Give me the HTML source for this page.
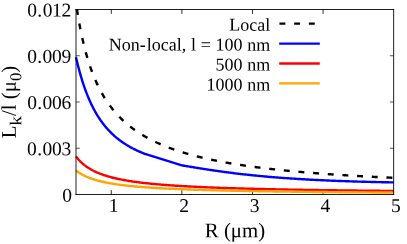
<!DOCTYPE html>
<html><head><meta charset="utf-8"><title>plot</title>
<style>
html,body{margin:0;padding:0;background:#fff;}
svg{display:block;will-change:transform;}
text{font-family:"Liberation Serif",serif;fill:#000;text-rendering:geometricPrecision;}
</style></head><body>
<svg width="407" height="244" viewBox="0 0 407 244">
<rect width="407" height="244" fill="#fff"/>
<g stroke="#000" stroke-width="0.66" fill="none"><line stroke-width="0.82" x1="111.29" y1="194.5" x2="111.29" y2="190.1"/><line stroke-width="0.82" x1="111.29" y1="9.5" x2="111.29" y2="13.9"/><line stroke-width="0.82" x1="181.88" y1="194.5" x2="181.88" y2="190.1"/><line stroke-width="0.82" x1="181.88" y1="9.5" x2="181.88" y2="13.9"/><line stroke-width="0.82" x1="252.47" y1="194.5" x2="252.47" y2="190.1"/><line stroke-width="0.82" x1="252.47" y1="9.5" x2="252.47" y2="13.9"/><line stroke-width="0.82" x1="323.06" y1="194.5" x2="323.06" y2="190.1"/><line stroke-width="0.82" x1="323.06" y1="9.5" x2="323.06" y2="13.9"/><line x1="76.0" y1="148.25" x2="79.8" y2="148.25"/><line x1="393.65" y1="148.25" x2="389.85" y2="148.25"/><line x1="76.0" y1="102.00" x2="79.8" y2="102.00"/><line x1="393.65" y1="102.00" x2="389.85" y2="102.00"/><line x1="76.0" y1="55.75" x2="79.8" y2="55.75"/><line x1="393.65" y1="55.75" x2="389.85" y2="55.75"/></g>
<g fill="none" stroke-linejoin="round" stroke-linecap="butt" stroke-width="2.4">
<path d="M76.95,9.50 L77.06,10.21 L77.59,13.53 L78.12,16.72 L78.65,19.80 L79.18,22.76 L79.71,25.62 L80.24,28.37 L80.77,31.04 L81.30,33.61 L81.83,36.09 L82.36,38.50 L82.89,40.82 L83.42,43.08 L83.95,45.26 L84.48,47.38 L85.02,49.43 L85.55,51.43 L86.08,53.36 L86.61,55.24 L87.14,57.07 L87.67,58.84 L88.20,60.57 L88.73,62.25 L89.26,63.89 L89.79,65.48 L90.32,67.04 L90.85,68.55 L91.38,70.03 L91.91,71.46 L92.44,72.87 L92.97,74.24 L93.50,75.58 L94.03,76.88 L94.56,78.16 L95.09,79.41 L95.62,80.63 L96.15,81.82 L96.68,82.99 L97.21,84.13 L97.74,85.24 L98.27,86.34 L98.80,87.41 L99.33,88.46 L99.86,89.48 L100.39,90.49 L100.92,91.48 L101.45,92.44 L101.98,93.39 L102.52,94.32 L103.05,95.23 L103.58,96.13 L104.11,97.01 L104.64,97.87 L105.17,98.71 L105.70,99.55 L106.23,100.36 L106.76,101.16 L107.29,101.95 L107.82,102.73 L108.35,103.49 L108.88,104.24 L109.41,104.97 L109.94,105.69 L110.47,106.40 L111.00,107.10 L111.53,107.79 L112.06,108.47 L112.59,109.14 L113.12,109.79 L113.65,110.44 L114.18,111.07 L114.71,111.70 L115.24,112.32 L115.77,112.92 L116.30,113.52 L116.83,114.11 L117.36,114.69 L117.89,115.26 L118.42,115.83 L118.95,116.38 L119.48,116.93 L120.01,117.47 L120.55,118.00 L121.08,118.53 L121.61,119.05 L122.14,119.56 L122.67,120.06 L123.20,120.56 L123.73,121.05 L124.26,121.53 L124.79,122.01 L125.32,122.48 L125.85,122.95 L126.38,123.41 L126.91,123.86 L127.44,124.31 L127.97,124.75 L128.50,125.19 L129.03,125.62 L129.56,126.04 L130.09,126.46 L130.62,126.88 L131.15,127.29 L131.68,127.69 L132.21,128.10 L132.74,128.49 L133.27,128.88 L133.80,129.27 L134.33,129.65 L134.86,130.03 L135.39,130.40 L135.92,130.77 L136.45,131.14 L136.98,131.50 L137.51,131.85 L138.05,132.21 L138.58,132.56 L139.11,132.90 L139.64,133.24 L140.17,133.58 L140.70,133.91 L141.23,134.24 L141.76,134.57 L142.29,134.89 L142.82,135.21 L143.35,135.53 L143.88,135.84 L144.41,136.15 L144.94,136.46 L145.47,136.76 L146.00,137.06 L146.53,137.36 L147.06,137.66 L147.59,137.95 L148.12,138.24 L148.65,138.52 L149.18,138.80 L149.71,139.08 L150.24,139.36 L150.77,139.64 L151.30,139.91 L151.83,140.18 L152.36,140.44 L152.89,140.71 L153.42,140.97 L153.95,141.23 L154.48,141.49 L155.01,141.74 L155.55,141.99 L156.08,142.24 L156.61,142.49 L157.14,142.73 L157.67,142.98 L158.20,143.22 L158.73,143.46 L159.26,143.69 L159.79,143.93 L160.32,144.16 L160.85,144.39 L161.38,144.62 L161.91,144.84 L162.44,145.07 L162.97,145.29 L163.50,145.51 L164.03,145.73 L164.56,145.94 L165.09,146.16 L165.62,146.37 L166.15,146.58 L166.68,146.79 L167.21,147.00 L167.74,147.20 L168.27,147.40 L168.80,147.61 L169.33,147.81 L169.86,148.01 L170.39,148.20 L170.92,148.40 L171.45,148.59 L171.98,148.78 L172.51,148.97 L173.04,149.16 L173.58,149.35 L174.11,149.54 L174.64,149.72 L175.17,149.91 L175.70,150.09 L176.23,150.27 L176.76,150.45 L177.29,150.62 L177.82,150.80 L178.35,150.97 L178.88,151.15 L179.41,151.32 L179.94,151.49 L180.47,151.66 L181.00,151.83 L181.53,151.99 L182.06,152.16 L182.59,152.32 L183.12,152.49 L183.65,152.65 L184.18,152.81 L184.71,152.97 L185.24,153.13 L185.77,153.28 L186.30,153.44 L186.83,153.60 L187.36,153.75 L187.89,153.90 L188.42,154.05 L188.95,154.20 L189.48,154.35 L190.01,154.50 L190.54,154.65 L191.08,154.79 L191.61,154.94 L192.14,155.08 L192.67,155.23 L193.20,155.37 L193.73,155.51 L194.26,155.65 L194.79,155.79 L195.32,155.93 L195.85,156.06 L196.38,156.20 L196.91,156.33 L197.44,156.47 L197.97,156.60 L198.50,156.73 L199.03,156.87 L199.56,157.00 L200.09,157.13 L200.62,157.26 L201.15,157.38 L201.68,157.51 L202.21,157.64 L202.74,157.76 L203.27,157.89 L203.80,158.01 L204.33,158.13 L204.86,158.26 L205.39,158.38 L205.92,158.50 L206.45,158.62 L206.98,158.74 L207.51,158.85 L208.04,158.97 L208.58,159.09 L209.11,159.21 L209.64,159.32 L210.17,159.43 L210.70,159.55 L211.23,159.66 L211.76,159.77 L212.29,159.89 L212.82,160.00 L213.35,160.11 L213.88,160.22 L214.41,160.33 L214.94,160.43 L215.47,160.54 L216.00,160.65 L216.53,160.75 L217.06,160.86 L217.59,160.96 L218.12,161.07 L218.65,161.17 L219.18,161.28 L219.71,161.38 L220.24,161.48 L220.77,161.58 L221.30,161.68 L221.83,161.78 L222.36,161.88 L222.89,161.98 L223.42,162.08 L223.95,162.17 L224.48,162.27 L225.01,162.37 L225.54,162.46 L226.08,162.56 L226.61,162.65 L227.14,162.75 L227.67,162.84 L228.20,162.93 L228.73,163.03 L229.26,163.12 L229.79,163.21 L230.32,163.30 L230.85,163.39 L231.38,163.48 L231.91,163.57 L232.44,163.66 L232.97,163.75 L233.50,163.84 L234.03,163.92 L234.56,164.01 L235.09,164.10 L235.62,164.18 L236.15,164.27 L236.68,164.35 L237.21,164.44 L237.74,164.52 L238.27,164.60 L238.80,164.69 L239.33,164.77 L239.86,164.85 L240.39,164.93 L240.92,165.01 L241.45,165.10 L241.98,165.18 L242.51,165.26 L243.04,165.33 L243.57,165.41 L244.11,165.49 L244.64,165.57 L245.17,165.65 L245.70,165.73 L246.23,165.80 L246.76,165.88 L247.29,165.96 L247.82,166.03 L248.35,166.11 L248.88,166.18 L249.41,166.26 L249.94,166.33 L250.47,166.40 L251.00,166.48 L251.53,166.55 L252.06,166.62 L252.59,166.69 L253.12,166.77 L253.65,166.84 L254.18,166.91 L254.71,166.98 L255.24,167.05 L255.77,167.12 L256.30,167.19 L256.83,167.26 L257.36,167.33 L257.89,167.40 L258.42,167.46 L258.95,167.53 L259.48,167.60 L260.01,167.67 L260.54,167.73 L261.07,167.80 L261.61,167.87 L262.14,167.93 L262.67,168.00 L263.20,168.06 L263.73,168.13 L264.26,168.19 L264.79,168.25 L265.32,168.32 L265.85,168.38 L266.38,168.45 L266.91,168.51 L267.44,168.57 L267.97,168.63 L268.50,168.70 L269.03,168.76 L269.56,168.82 L270.09,168.88 L270.62,168.94 L271.15,169.00 L271.68,169.06 L272.21,169.12 L272.74,169.18 L273.27,169.24 L273.80,169.30 L274.33,169.36 L274.86,169.42 L275.39,169.47 L275.92,169.53 L276.45,169.59 L276.98,169.65 L277.51,169.70 L278.04,169.76 L278.57,169.82 L279.11,169.87 L279.64,169.93 L280.17,169.98 L280.70,170.04 L281.23,170.10 L281.76,170.15 L282.29,170.21 L282.82,170.26 L283.35,170.31 L283.88,170.37 L284.41,170.42 L284.94,170.47 L285.47,170.53 L286.00,170.58 L286.53,170.63 L287.06,170.69 L287.59,170.74 L288.12,170.79 L288.65,170.84 L289.18,170.89 L289.71,170.94 L290.24,171.00 L290.77,171.05 L291.30,171.10 L291.83,171.15 L292.36,171.20 L292.89,171.25 L293.42,171.30 L293.95,171.35 L294.48,171.40 L295.01,171.44 L295.54,171.49 L296.07,171.54 L296.61,171.59 L297.14,171.64 L297.67,171.69 L298.20,171.73 L298.73,171.78 L299.26,171.83 L299.79,171.88 L300.32,171.92 L300.85,171.97 L301.38,172.02 L301.91,172.06 L302.44,172.11 L302.97,172.15 L303.50,172.20 L304.03,172.25 L304.56,172.29 L305.09,172.34 L305.62,172.38 L306.15,172.43 L306.68,172.47 L307.21,172.51 L307.74,172.56 L308.27,172.60 L308.80,172.65 L309.33,172.69 L309.86,172.73 L310.39,172.78 L310.92,172.82 L311.45,172.86 L311.98,172.90 L312.51,172.95 L313.04,172.99 L313.57,173.03 L314.10,173.07 L314.64,173.11 L315.17,173.16 L315.70,173.20 L316.23,173.24 L316.76,173.28 L317.29,173.32 L317.82,173.36 L318.35,173.40 L318.88,173.44 L319.41,173.48 L319.94,173.52 L320.47,173.56 L321.00,173.60 L321.53,173.64 L322.06,173.68 L322.59,173.72 L323.12,173.76 L323.65,173.80 L324.18,173.84 L324.71,173.88 L325.24,173.91 L325.77,173.95 L326.30,173.99 L326.83,174.03 L327.36,174.07 L327.89,174.10 L328.42,174.14 L328.95,174.18 L329.48,174.22 L330.01,174.25 L330.54,174.29 L331.07,174.33 L331.60,174.36 L332.14,174.40 L332.67,174.44 L333.20,174.47 L333.73,174.51 L334.26,174.54 L334.79,174.58 L335.32,174.61 L335.85,174.65 L336.38,174.69 L336.91,174.72 L337.44,174.76 L337.97,174.79 L338.50,174.82 L339.03,174.86 L339.56,174.89 L340.09,174.93 L340.62,174.96 L341.15,175.00 L341.68,175.03 L342.21,175.06 L342.74,175.10 L343.27,175.13 L343.80,175.17 L344.33,175.20 L344.86,175.23 L345.39,175.26 L345.92,175.30 L346.45,175.33 L346.98,175.36 L347.51,175.40 L348.04,175.43 L348.57,175.46 L349.10,175.49 L349.64,175.52 L350.17,175.56 L350.70,175.59 L351.23,175.62 L351.76,175.65 L352.29,175.68 L352.82,175.71 L353.35,175.75 L353.88,175.78 L354.41,175.81 L354.94,175.84 L355.47,175.87 L356.00,175.90 L356.53,175.93 L357.06,175.96 L357.59,175.99 L358.12,176.02 L358.65,176.05 L359.18,176.08 L359.71,176.11 L360.24,176.14 L360.77,176.17 L361.30,176.20 L361.83,176.23 L362.36,176.26 L362.89,176.29 L363.42,176.32 L363.95,176.34 L364.48,176.37 L365.01,176.40 L365.54,176.43 L366.07,176.46 L366.60,176.49 L367.13,176.52 L367.67,176.54 L368.20,176.57 L368.73,176.60 L369.26,176.63 L369.79,176.66 L370.32,176.68 L370.85,176.71 L371.38,176.74 L371.91,176.77 L372.44,176.79 L372.97,176.82 L373.50,176.85 L374.03,176.88 L374.56,176.90 L375.09,176.93 L375.62,176.96 L376.15,176.98 L376.68,177.01 L377.21,177.04 L377.74,177.06 L378.27,177.09 L378.80,177.11 L379.33,177.14 L379.86,177.17 L380.39,177.19 L380.92,177.22 L381.45,177.24 L381.98,177.27 L382.51,177.29 L383.04,177.32 L383.57,177.35 L384.10,177.37 L384.63,177.40 L385.17,177.42 L385.70,177.45 L386.23,177.47 L386.76,177.50 L387.29,177.52 L387.82,177.54 L388.35,177.57 L388.88,177.59 L389.41,177.62 L389.94,177.64 L390.47,177.67 L391.00,177.69 L391.53,177.71 L392.06,177.74 L392.59,177.76 L393.12,177.79 L393.65,177.81" stroke="#000" stroke-dasharray="5.9 8.8" stroke-dashoffset="0.46"/>
<path d="M76.00,57.16 L76.59,59.74 L77.19,62.24 L77.78,64.66 L78.37,67.00 L78.97,69.28 L79.56,71.48 L80.15,73.62 L80.75,75.69 L81.34,77.70 L81.93,79.65 L82.53,81.54 L83.12,83.38 L83.71,85.17 L84.30,86.90 L84.90,88.59 L85.49,90.23 L86.08,91.82 L86.68,93.37 L87.27,94.88 L87.86,96.35 L88.46,97.78 L89.05,99.17 L89.64,100.52 L90.24,101.84 L90.83,103.13 L91.42,104.38 L92.02,105.60 L92.61,106.79 L93.20,107.95 L93.80,109.08 L94.39,110.19 L94.98,111.26 L95.58,112.31 L96.17,113.34 L96.76,114.34 L97.35,115.32 L97.95,116.28 L98.54,117.21 L99.13,118.12 L99.73,119.01 L100.32,119.88 L100.91,120.73 L101.51,121.57 L102.10,122.38 L102.69,123.18 L103.29,123.96 L103.88,124.72 L104.47,125.47 L105.07,126.20 L105.66,126.91 L106.25,127.61 L106.85,128.30 L107.44,128.97 L108.03,129.62 L108.63,130.27 L109.22,130.90 L109.81,131.52 L110.40,132.12 L111.00,132.72 L111.59,133.30 L112.18,133.87 L112.78,134.43 L113.37,134.98 L113.96,135.52 L114.56,136.05 L115.15,136.57 L115.74,137.08 L116.34,137.58 L116.93,138.07 L117.52,138.55 L118.12,139.02 L118.71,139.49 L119.30,139.94 L119.90,140.39 L120.49,140.83 L121.08,141.26 L121.68,141.69 L122.27,142.10 L122.86,142.51 L123.45,142.91 L124.05,143.31 L124.64,143.70 L125.23,144.08 L125.83,144.46 L126.42,144.83 L127.01,145.19 L127.61,145.55 L128.20,145.90 L128.79,146.24 L129.39,146.58 L129.98,146.92 L130.57,147.25 L131.17,147.57 L131.76,147.89 L132.35,148.21 L132.95,148.51 L133.54,148.82 L134.13,149.12 L134.73,149.41 L135.32,149.70 L135.91,149.99 L136.50,150.27 L137.10,150.55 L137.69,150.82 L138.28,151.09 L138.88,151.35 L139.47,151.61 L140.06,151.87 L140.66,152.12 L141.25,152.37 L141.84,152.62 L142.44,152.86 L143.03,153.10 L143.62,153.34 L144.22,153.57 L144.81,153.80 L145.40,154.02 L146.00,154.24 L146.59,154.46 L181.88,165.36 L182.95,165.53 L184.01,165.71 L185.08,165.89 L186.14,166.07 L187.20,166.24 L188.27,166.42 L189.33,166.60 L190.40,166.77 L191.46,166.95 L192.52,167.12 L193.59,167.30 L194.65,167.47 L195.72,167.65 L196.78,167.82 L197.85,167.99 L198.91,168.17 L199.97,168.34 L201.04,168.51 L202.10,168.68 L203.17,168.84 L204.23,169.01 L205.29,169.18 L206.36,169.34 L207.42,169.51 L208.49,169.67 L209.55,169.83 L210.62,169.99 L211.68,170.15 L212.74,170.31 L213.81,170.46 L214.87,170.62 L215.94,170.77 L217.00,170.93 L218.06,171.08 L219.13,171.23 L220.19,171.38 L221.26,171.53 L222.32,171.67 L223.39,171.82 L224.45,171.96 L225.51,172.10 L226.58,172.25 L227.64,172.39 L228.71,172.52 L229.77,172.66 L230.83,172.80 L231.90,172.93 L232.96,173.06 L234.03,173.20 L235.09,173.33 L236.16,173.46 L237.22,173.58 L238.28,173.71 L239.35,173.84 L240.41,173.96 L241.48,174.08 L242.54,174.20 L243.60,174.32 L244.67,174.44 L245.73,174.56 L246.80,174.68 L247.86,174.79 L248.93,174.90 L249.99,175.02 L251.05,175.13 L252.12,175.24 L253.18,175.35 L254.25,175.45 L255.31,175.56 L256.37,175.67 L257.44,175.77 L258.50,175.87 L259.57,175.97 L260.63,176.07 L261.69,176.17 L262.76,176.27 L263.82,176.37 L264.89,176.46 L265.95,176.56 L267.02,176.65 L268.08,176.75 L269.14,176.84 L270.21,176.93 L271.27,177.02 L272.34,177.11 L273.40,177.19 L274.46,177.28 L275.53,177.37 L276.59,177.45 L277.66,177.53 L278.72,177.62 L279.79,177.70 L280.85,177.78 L281.91,177.86 L282.98,177.94 L284.04,178.01 L285.11,178.09 L286.17,178.17 L287.23,178.24 L288.30,178.31 L289.36,178.39 L290.43,178.46 L291.49,178.53 L292.56,178.60 L293.62,178.67 L294.68,178.74 L295.75,178.81 L296.81,178.88 L297.88,178.94 L298.94,179.01 L300.00,179.07 L301.07,179.14 L302.13,179.20 L303.20,179.26 L304.26,179.32 L305.33,179.38 L306.39,179.44 L307.45,179.50 L308.52,179.56 L309.58,179.62 L310.65,179.68 L311.71,179.73 L312.77,179.79 L313.84,179.84 L314.90,179.90 L315.97,179.95 L317.03,180.01 L318.10,180.06 L319.16,180.11 L320.22,180.16 L321.29,180.21 L322.35,180.26 L323.42,180.31 L324.48,180.36 L325.54,180.41 L326.61,180.45 L327.67,180.50 L328.74,180.55 L329.80,180.59 L330.86,180.64 L331.93,180.68 L332.99,180.72 L334.06,180.77 L335.12,180.81 L336.19,180.85 L337.25,180.89 L338.31,180.93 L339.38,180.97 L340.44,181.01 L341.51,181.05 L342.57,181.09 L343.63,181.13 L344.70,181.17 L345.76,181.20 L346.83,181.24 L347.89,181.28 L348.96,181.31 L350.02,181.35 L351.08,181.38 L352.15,181.42 L353.21,181.45 L354.28,181.48 L355.34,181.51 L356.40,181.55 L357.47,181.58 L358.53,181.61 L359.60,181.64 L360.66,181.67 L361.73,181.70 L362.79,181.73 L363.85,181.76 L364.92,181.79 L365.98,181.82 L367.05,181.84 L368.11,181.87 L369.17,181.90 L370.24,181.92 L371.30,181.95 L372.37,181.98 L373.43,182.00 L374.50,182.03 L375.56,182.05 L376.62,182.08 L377.69,182.10 L378.75,182.12 L379.82,182.15 L380.88,182.17 L381.94,182.19 L383.01,182.21 L384.07,182.23 L385.14,182.25 L386.20,182.27 L387.27,182.30 L388.33,182.32 L389.39,182.33 L390.46,182.35 L391.52,182.37 L392.59,182.39 L393.65,182.41" stroke="#0000ff"/>
<path d="M76.00,156.48 L77.06,157.82 L78.12,159.08 L79.19,160.25 L80.25,161.34 L81.31,162.37 L82.37,163.34 L83.44,164.24 L84.50,165.10 L85.56,165.91 L86.62,166.68 L87.69,167.41 L88.75,168.09 L89.81,168.75 L90.87,169.37 L91.94,169.96 L93.00,170.53 L94.06,171.07 L95.12,171.58 L96.19,172.08 L97.25,172.55 L98.31,173.00 L99.37,173.43 L100.43,173.85 L101.50,174.24 L102.56,174.63 L103.62,175.00 L104.68,175.35 L105.75,175.69 L106.81,176.02 L107.87,176.34 L108.93,176.65 L110.00,176.94 L111.06,177.23 L112.12,177.51 L113.18,177.77 L114.25,178.03 L115.31,178.28 L116.37,178.53 L117.43,178.76 L118.49,178.99 L119.56,179.21 L120.62,179.43 L121.68,179.64 L122.74,179.84 L123.81,180.04 L124.87,180.23 L125.93,180.42 L126.99,180.60 L128.06,180.78 L129.12,180.95 L130.18,181.11 L131.24,181.28 L132.31,181.44 L133.37,181.59 L134.43,181.74 L135.49,181.89 L136.56,182.04 L137.62,182.18 L138.68,182.31 L139.74,182.45 L140.80,182.58 L141.87,182.71 L142.93,182.83 L143.99,182.96 L145.05,183.08 L146.12,183.19 L147.18,183.31 L148.24,183.42 L149.30,183.53 L150.37,183.64 L151.43,183.74 L152.49,183.85 L153.55,183.95 L154.62,184.05 L155.68,184.15 L156.74,184.24 L157.80,184.33 L158.87,184.43 L159.93,184.52 L160.99,184.60 L162.05,184.69 L163.11,184.78 L164.18,184.86 L165.24,184.94 L166.30,185.02 L167.36,185.10 L168.43,185.18 L169.49,185.26 L170.55,185.33 L171.61,185.41 L172.68,185.48 L173.74,185.55 L174.80,185.62 L175.86,185.69 L176.93,185.76 L177.99,185.82 L179.05,185.89 L180.11,185.95 L181.18,186.02 L182.24,186.08 L183.30,186.14 L184.36,186.20 L185.42,186.26 L186.49,186.32 L187.55,186.38 L188.61,186.44 L189.67,186.49 L190.74,186.55 L191.80,186.60 L192.86,186.66 L193.92,186.71 L194.99,186.76 L196.05,186.81 L197.11,186.86 L198.17,186.91 L199.24,186.96 L200.30,187.01 L201.36,187.06 L202.42,187.11 L203.48,187.15 L204.55,187.20 L205.61,187.25 L206.67,187.29 L207.73,187.34 L208.80,187.38 L209.86,187.42 L210.92,187.47 L211.98,187.51 L213.05,187.55 L214.11,187.59 L215.17,187.63 L216.23,187.67 L217.30,187.71 L218.36,187.75 L219.42,187.79 L220.48,187.83 L221.55,187.86 L222.61,187.90 L223.67,187.94 L224.73,187.97 L225.79,188.01 L226.86,188.05 L227.92,188.08 L228.98,188.12 L230.04,188.15 L231.11,188.18 L232.17,188.22 L233.23,188.25 L234.29,188.28 L235.36,188.31 L236.42,188.35 L237.48,188.38 L238.54,188.41 L239.61,188.44 L240.67,188.47 L241.73,188.50 L242.79,188.53 L243.86,188.56 L244.92,188.59 L245.98,188.62 L247.04,188.65 L248.10,188.68 L249.17,188.71 L250.23,188.73 L251.29,188.76 L252.35,188.79 L253.42,188.82 L254.48,188.84 L255.54,188.87 L256.60,188.89 L257.67,188.92 L258.73,188.95 L259.79,188.97 L260.85,189.00 L261.92,189.02 L262.98,189.05 L264.04,189.07 L265.10,189.10 L266.17,189.12 L267.23,189.14 L268.29,189.17 L269.35,189.19 L270.41,189.21 L271.48,189.24 L272.54,189.26 L273.60,189.28 L274.66,189.30 L275.73,189.33 L276.79,189.35 L277.85,189.37 L278.91,189.39 L279.98,189.41 L281.04,189.43 L282.10,189.45 L283.16,189.48 L284.23,189.50 L285.29,189.52 L286.35,189.54 L287.41,189.56 L288.47,189.58 L289.54,189.60 L290.60,189.62 L291.66,189.64 L292.72,189.65 L293.79,189.67 L294.85,189.69 L295.91,189.71 L296.97,189.73 L298.04,189.75 L299.10,189.77 L300.16,189.78 L301.22,189.80 L302.29,189.82 L303.35,189.84 L304.41,189.86 L305.47,189.87 L306.54,189.89 L307.60,189.91 L308.66,189.92 L309.72,189.94 L310.78,189.96 L311.85,189.98 L312.91,189.99 L313.97,190.01 L315.03,190.02 L316.10,190.04 L317.16,190.06 L318.22,190.07 L319.28,190.09 L320.35,190.10 L321.41,190.12 L322.47,190.13 L323.53,190.15 L324.60,190.16 L325.66,190.18 L326.72,190.19 L327.78,190.21 L328.85,190.22 L329.91,190.24 L330.97,190.25 L332.03,190.27 L333.09,190.28 L334.16,190.30 L335.22,190.31 L336.28,190.32 L337.34,190.34 L338.41,190.35 L339.47,190.37 L340.53,190.38 L341.59,190.39 L342.66,190.41 L343.72,190.42 L344.78,190.43 L345.84,190.45 L346.91,190.46 L347.97,190.47 L349.03,190.49 L350.09,190.50 L351.16,190.51 L352.22,190.52 L353.28,190.54 L354.34,190.55 L355.40,190.56 L356.47,190.57 L357.53,190.59 L358.59,190.60 L359.65,190.61 L360.72,190.62 L361.78,190.63 L362.84,190.64 L363.90,190.66 L364.97,190.67 L366.03,190.68 L367.09,190.69 L368.15,190.70 L369.22,190.71 L370.28,190.73 L371.34,190.74 L372.40,190.75 L373.46,190.76 L374.53,190.77 L375.59,190.78 L376.65,190.79 L377.71,190.80 L378.78,190.81 L379.84,190.82 L380.90,190.83 L381.96,190.85 L383.03,190.86 L384.09,190.87 L385.15,190.88 L386.21,190.89 L387.28,190.90 L388.34,190.91 L389.40,190.92 L390.46,190.93 L391.53,190.94 L392.59,190.95 L393.65,190.96" stroke="#ff0000"/>
<path d="M76.00,170.38 L77.06,171.22 L78.12,171.99 L79.19,172.72 L80.25,173.40 L81.31,174.04 L82.37,174.64 L83.44,175.21 L84.50,175.75 L85.56,176.26 L86.62,176.74 L87.69,177.19 L88.75,177.63 L89.81,178.04 L90.87,178.43 L91.94,178.80 L93.00,179.16 L94.06,179.50 L95.12,179.83 L96.19,180.14 L97.25,180.44 L98.31,180.73 L99.37,181.00 L100.43,181.26 L101.50,181.52 L102.56,181.76 L103.62,182.00 L104.68,182.23 L105.75,182.45 L106.81,182.66 L107.87,182.86 L108.93,183.06 L110.00,183.25 L111.06,183.43 L112.12,183.61 L113.18,183.78 L114.25,183.95 L115.31,184.11 L116.37,184.27 L117.43,184.42 L118.49,184.57 L119.56,184.72 L120.62,184.86 L121.68,184.99 L122.74,185.12 L123.81,185.25 L124.87,185.38 L125.93,185.50 L126.99,185.62 L128.06,185.73 L129.12,185.85 L130.18,185.96 L131.24,186.06 L132.31,186.17 L133.37,186.27 L134.43,186.37 L135.49,186.47 L136.56,186.56 L137.62,186.65 L138.68,186.74 L139.74,186.83 L140.80,186.92 L141.87,187.00 L142.93,187.09 L143.99,187.17 L145.05,187.25 L146.12,187.32 L147.18,187.40 L148.24,187.48 L149.30,187.55 L150.37,187.62 L151.43,187.69 L152.49,187.76 L153.55,187.83 L154.62,187.89 L155.68,187.96 L156.74,188.02 L157.80,188.08 L158.87,188.14 L159.93,188.20 L160.99,188.26 L162.05,188.32 L163.11,188.38 L164.18,188.43 L165.24,188.49 L166.30,188.54 L167.36,188.60 L168.43,188.65 L169.49,188.70 L170.55,188.75 L171.61,188.80 L172.68,188.85 L173.74,188.90 L174.80,188.94 L175.86,188.99 L176.93,189.04 L177.99,189.08 L179.05,189.13 L180.11,189.17 L181.18,189.21 L182.24,189.25 L183.30,189.30 L184.36,189.34 L185.42,189.38 L186.49,189.42 L187.55,189.46 L188.61,189.49 L189.67,189.53 L190.74,189.57 L191.80,189.61 L192.86,189.64 L193.92,189.68 L194.99,189.72 L196.05,189.75 L197.11,189.78 L198.17,189.82 L199.24,189.85 L200.30,189.89 L201.36,189.92 L202.42,189.95 L203.48,189.98 L204.55,190.01 L205.61,190.04 L206.67,190.08 L207.73,190.11 L208.80,190.14 L209.86,190.16 L210.92,190.19 L211.98,190.22 L213.05,190.25 L214.11,190.28 L215.17,190.31 L216.23,190.33 L217.30,190.36 L218.36,190.39 L219.42,190.41 L220.48,190.44 L221.55,190.47 L222.61,190.49 L223.67,190.52 L224.73,190.54 L225.79,190.57 L226.86,190.59 L227.92,190.61 L228.98,190.64 L230.04,190.66 L231.11,190.68 L232.17,190.71 L233.23,190.73 L234.29,190.75 L235.36,190.77 L236.42,190.80 L237.48,190.82 L238.54,190.84 L239.61,190.86 L240.67,190.88 L241.73,190.90 L242.79,190.92 L243.86,190.94 L244.92,190.96 L245.98,190.98 L247.04,191.00 L248.10,191.02 L249.17,191.04 L250.23,191.06 L251.29,191.08 L252.35,191.10 L253.42,191.12 L254.48,191.14 L255.54,191.15 L256.60,191.17 L257.67,191.19 L258.73,191.21 L259.79,191.22 L260.85,191.24 L261.92,191.26 L262.98,191.28 L264.04,191.29 L265.10,191.31 L266.17,191.33 L267.23,191.34 L268.29,191.36 L269.35,191.37 L270.41,191.39 L271.48,191.41 L272.54,191.42 L273.60,191.44 L274.66,191.45 L275.73,191.47 L276.79,191.48 L277.85,191.50 L278.91,191.51 L279.98,191.53 L281.04,191.54 L282.10,191.56 L283.16,191.57 L284.23,191.58 L285.29,191.60 L286.35,191.61 L287.41,191.63 L288.47,191.64 L289.54,191.65 L290.60,191.67 L291.66,191.68 L292.72,191.69 L293.79,191.71 L294.85,191.72 L295.91,191.73 L296.97,191.75 L298.04,191.76 L299.10,191.77 L300.16,191.78 L301.22,191.80 L302.29,191.81 L303.35,191.82 L304.41,191.83 L305.47,191.84 L306.54,191.86 L307.60,191.87 L308.66,191.88 L309.72,191.89 L310.78,191.90 L311.85,191.91 L312.91,191.93 L313.97,191.94 L315.03,191.95 L316.10,191.96 L317.16,191.97 L318.22,191.98 L319.28,191.99 L320.35,192.00 L321.41,192.01 L322.47,192.02 L323.53,192.03 L324.60,192.04 L325.66,192.06 L326.72,192.07 L327.78,192.08 L328.85,192.09 L329.91,192.10 L330.97,192.11 L332.03,192.12 L333.09,192.13 L334.16,192.14 L335.22,192.14 L336.28,192.15 L337.34,192.16 L338.41,192.17 L339.47,192.18 L340.53,192.19 L341.59,192.20 L342.66,192.21 L343.72,192.22 L344.78,192.23 L345.84,192.24 L346.91,192.25 L347.97,192.26 L349.03,192.26 L350.09,192.27 L351.16,192.28 L352.22,192.29 L353.28,192.30 L354.34,192.31 L355.40,192.32 L356.47,192.32 L357.53,192.33 L358.59,192.34 L359.65,192.35 L360.72,192.36 L361.78,192.37 L362.84,192.37 L363.90,192.38 L364.97,192.39 L366.03,192.40 L367.09,192.41 L368.15,192.41 L369.22,192.42 L370.28,192.43 L371.34,192.44 L372.40,192.44 L373.46,192.45 L374.53,192.46 L375.59,192.47 L376.65,192.47 L377.71,192.48 L378.78,192.49 L379.84,192.50 L380.90,192.50 L381.96,192.51 L383.03,192.52 L384.09,192.53 L385.15,192.53 L386.21,192.54 L387.28,192.55 L388.34,192.55 L389.40,192.56 L390.46,192.57 L391.53,192.57 L392.59,192.58 L393.65,192.59" stroke="#ffa500"/>
<line x1="279.45" y1="23.6" x2="319.8" y2="23.6" stroke="#000" stroke-dasharray="5.9 8.8"/>
<line x1="279.2" y1="43.6" x2="319.8" y2="43.6" stroke="#0000ff"/>
<line x1="279.2" y1="63.5" x2="319.8" y2="63.5" stroke="#ff0000"/>
<line x1="279.2" y1="83.4" x2="319.8" y2="83.4" stroke="#ffa500"/>
</g>
<g stroke="#000" stroke-width="0.88" fill="none">
<line x1="76.0" y1="9.0" x2="76.0" y2="195.0"/>
<line x1="393.65" y1="9.0" x2="393.65" y2="195.0"/>
<line x1="75.5" y1="9.5" x2="394.15" y2="9.5"/>
<line x1="75.5" y1="194.5" x2="394.15" y2="194.5"/>
</g>
<g transform="rotate(0.03)">
<g font-size="19.5"><text x="113.69" y="211.8" text-anchor="middle">1</text><text x="184.28" y="211.8" text-anchor="middle">2</text><text x="254.87" y="211.8" text-anchor="middle">3</text><text x="325.46" y="211.8" text-anchor="middle">4</text><text x="396.05" y="211.8" text-anchor="middle">5</text><text x="72.0" y="201.80" text-anchor="end">0</text><text x="71.0" y="155.15" text-anchor="end">0<tspan dx="0.3">.</tspan><tspan dx="0.5" letter-spacing="-0.3">003</tspan></text><text x="71.0" y="108.90" text-anchor="end">0<tspan dx="0.3">.</tspan><tspan dx="0.5" letter-spacing="-0.3">006</tspan></text><text x="71.0" y="62.65" text-anchor="end">0<tspan dx="0.3">.</tspan><tspan dx="0.5" letter-spacing="-0.3">009</tspan></text><text x="71.0" y="16.40" text-anchor="end">0<tspan dx="0.3">.</tspan><tspan dx="0.5" letter-spacing="-0.3">012</tspan></text>
</g><g font-size="20.8">
<text x="235.1" y="237.2" text-anchor="middle">R (μm)</text>
<text transform="translate(15.9,102.1) rotate(-90)" text-anchor="middle">L<tspan font-size="16.64" dy="5.4" textLength="9.7" lengthAdjust="spacingAndGlyphs">k</tspan><tspan dy="-5.4">/l (μ</tspan><tspan font-size="16.64" dy="5.4">0</tspan><tspan dy="-5.4">)</tspan></text>
</g>
<g font-size="18.0" text-anchor="end" transform="translate(270.3,0)" style="word-spacing:0.2px">
<text x="0" y="30.5">Local</text>
<text x="0" y="50.5">Non-<tspan dx="1.0">local, l = 100 nm</tspan></text>
<text x="0" y="70.4">500 nm</text>
<text x="0" y="90.3">1000 nm</text>
</g>
</g>
</svg>
</body></html>
